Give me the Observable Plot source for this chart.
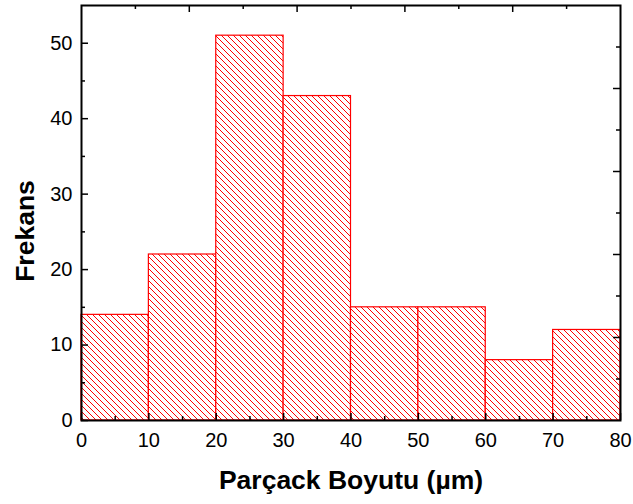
<!DOCTYPE html>
<html>
<head>
<meta charset="utf-8">
<script src="https://cdn.jsdelivr.net/npm/d3@7"></script>
<script src="https://cdn.jsdelivr.net/npm/@observablehq/plot@0.6"></script>
<style>
  html, body { margin: 0; padding: 0; background: white; }
</style>
</head>
<body>
<div id="chart"></div>
<script>
// ---- data ----
const binStart = [0, 10, 20, 30, 40, 50, 60, 70];
const binEnd   = [10, 20, 30, 40, 50, 60, 70, 80];
const counts   = [14, 22, 51, 43, 15, 15, 8, 12];

const xMajorTicks = [0, 10, 20, 30, 40, 50, 60, 70, 80];
const xMinorTicks = [5, 15, 25, 35, 45, 55, 65, 75];
const yMajorTicks = [0, 10, 20, 30, 40, 50];
const yMinorTicks = [5, 15, 25, 35, 45];
const topMajorTicks = [16, 32, 48, 64];
const topMinorTicks = [8, 24, 40, 56, 72];
const rightMajorTicks = [11, 22, 33, 44];
const rightMinorTicks = [5.5, 16.5, 27.5, 38.5, 49.5];

const xLabel = "Parçack Boyutu (µm)";
const yLabel = "Frekans";

// ---- layout ----
const W = 633, H = 504;
const mL = 81, mR = 13, mT = 5, mB = 84;
const xDom = [0, 80], yDom = [0, 55];
const pxX = (xDom[1] - xDom[0]) / (W - mL - mR);
const pxY = (yDom[1] - yDom[0]) / (H - mT - mB);
const majorLen = 7, minorLen = 4;

const bins = binStart.map((s, i) => ({x1: s, x2: binEnd[i], y: counts[i]}));

const tickStyle = {stroke: "black", strokeWidth: 1.5};

const svg = Plot.plot({
  width: W,
  height: H,
  marginLeft: mL,
  marginRight: mR,
  marginTop: mT,
  marginBottom: mB,
  style: {fontFamily: "'Liberation Sans', Arial, sans-serif", background: "white", color: "black"},
  x: {domain: xDom, nice: false},
  y: {domain: yDom, nice: false},
  marks: [
    Plot.rectY(bins, {x1: "x1", x2: "x2", y: "y", fill: "url(#hatch)", stroke: "#ff0000", strokeWidth: 1.2, inset: 0}),
    // bottom ticks
    Plot.ruleX(xMajorTicks, {x: d => d, y1: yDom[0], y2: yDom[0] + majorLen * pxY, ...tickStyle}),
    Plot.ruleX(xMinorTicks, {x: d => d, y1: yDom[0], y2: yDom[0] + minorLen * pxY, ...tickStyle}),
    // top ticks
    Plot.ruleX(topMajorTicks, {x: d => d, y1: yDom[1], y2: yDom[1] - majorLen * pxY, ...tickStyle}),
    Plot.ruleX(topMinorTicks, {x: d => d, y1: yDom[1], y2: yDom[1] - minorLen * pxY, ...tickStyle}),
    // left ticks
    Plot.ruleY(yMajorTicks, {y: d => d, x1: xDom[0], x2: xDom[0] + majorLen * pxX, ...tickStyle}),
    Plot.ruleY(yMinorTicks, {y: d => d, x1: xDom[0], x2: xDom[0] + minorLen * pxX, ...tickStyle}),
    // right ticks
    Plot.ruleY(rightMajorTicks, {y: d => d, x1: xDom[1], x2: xDom[1] - majorLen * pxX, ...tickStyle}),
    Plot.ruleY(rightMinorTicks, {y: d => d, x1: xDom[1], x2: xDom[1] - minorLen * pxX, ...tickStyle}),
    Plot.frame({stroke: "black", strokeWidth: 2}),
    Plot.axisX({ticks: xMajorTicks, tickSize: 0, tickPadding: 12, fontSize: 20, label: null, fill: "black"}),
    Plot.axisY({ticks: yMajorTicks, tickSize: 0, tickPadding: 9, fontSize: 20, label: null, fill: "black"}),
    Plot.text([xLabel], {text: d => d, frameAnchor: "bottom", lineAnchor: "bottom", textAnchor: "middle", dy: 68, fontSize: 26.5, fontWeight: "bold", fill: "black"}),
    Plot.text([yLabel], {text: d => d, frameAnchor: "left", textAnchor: "middle", lineAnchor: "middle", rotate: -90, dx: -56, dy: 18, fontSize: 26.5, fontWeight: "bold", fill: "black"})
  ]
});

// hatch pattern definition
const defs = d3.select(svg).insert("defs", ":first-child");
const pat = defs.append("pattern")
  .attr("id", "hatch")
  .attr("patternUnits", "userSpaceOnUse")
  .attr("width", 6)
  .attr("height", 6);
pat.append("rect").attr("width", 6).attr("height", 6).attr("fill", "white");
pat.append("path")
  .attr("d", "M-1,-1L7,7M-4,2L2,8M2,-4L8,2")
  .attr("stroke", "#ff0000")
  .attr("stroke-width", 1)
  .attr("fill", "none");

document.getElementById("chart").appendChild(svg);
</script>
</body>
</html>
